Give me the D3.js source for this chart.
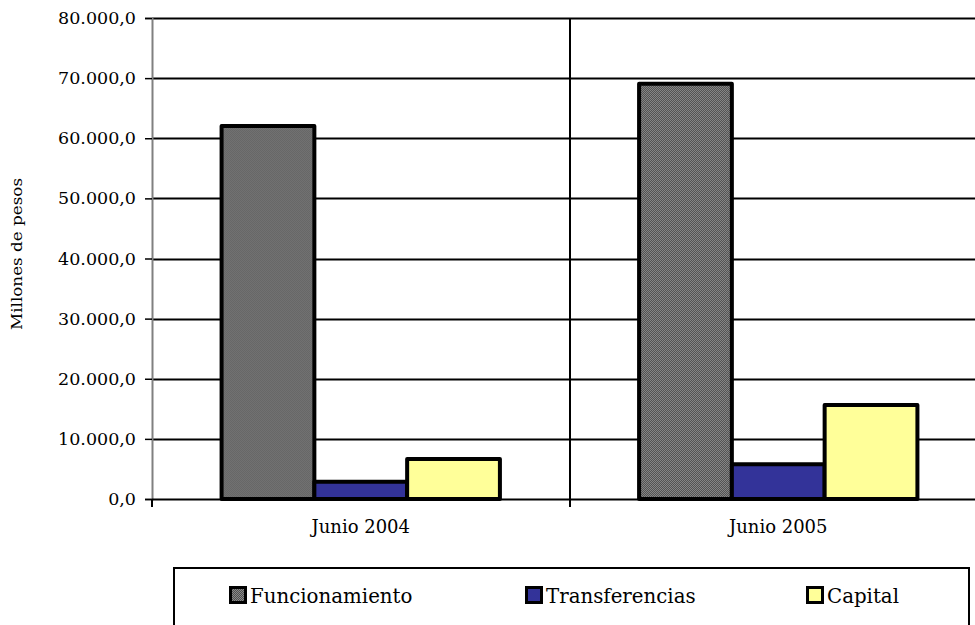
<!DOCTYPE html>
<html>
<head>
<meta charset="utf-8">
<script src="https://cdn.jsdelivr.net/npm/d3@7"></script>
<style>
  html, body { margin: 0; padding: 0; background: #fff; }
  svg { display: block; font-family: "DejaVu Serif", serif; }
</style>
</head>
<body>
<svg id="chart" width="975" height="625"></svg>
<script>
// Gasto por tipo, en millones de pesos
const categories = ["Junio 2004", "Junio 2005"];
const seriesNames = ["Funcionamiento", "Transferencias", "Capital"];
const funcionamiento = [62050, 69050];
const transferencias = [2850, 5800];
const capital = [6650, 15650];
const yTicks = [0, 10000, 20000, 30000, 40000, 50000, 60000, 70000, 80000];
const yLabel = "Millones de pesos";

const seriesValues = [funcionamiento, transferencias, capital];
const fills = ["url(#checker)", "#333399", "#FFFF99"];

const svg = d3.select("#chart");
const W = 975, H = 625;
const x0 = 152, x1 = 987;      // plot runs slightly past the right edge
const yTop = 18, yBot = 499;

// checker fill for the first series
const defs = svg.append("defs");
const pat = defs.append("pattern").attr("id", "checker")
  .attr("width", 2).attr("height", 2).attr("patternUnits", "userSpaceOnUse");
pat.append("rect").attr("width", 2).attr("height", 2).attr("fill", "#8a8a8a");
pat.append("rect").attr("width", 1).attr("height", 1).attr("fill", "#4e4e4e");
pat.append("rect").attr("x", 1).attr("y", 1).attr("width", 1).attr("height", 1).attr("fill", "#4e4e4e");

const y = d3.scaleLinear().domain([0, 80000]).range([yBot, yTop]);
const xCat = d3.scaleBand().domain(categories).range([x0, x1]).paddingInner(0).paddingOuter(0);
const groupW = xCat.bandwidth() * 3 / 4.5;   // gap of 150% of a bar
const xSer = d3.scaleBand().domain(seriesNames).range([0, groupW]).padding(0);

const fmt = v => d3.format(",.1f")(v).replace(/,/g, "#").replace(".", ",").replace(/#/g, ".");

// horizontal gridlines
svg.append("g").selectAll("line").data(yTicks.filter(t => t > 0)).join("line")
  .attr("x1", x0).attr("x2", W)
  .attr("y1", d => Math.round(y(d)) + 0.5).attr("y2", d => Math.round(y(d)) + 0.5)
  .attr("stroke", "#000").attr("stroke-width", 2);

// category separators
svg.append("g").selectAll("line").data(categories.slice(1)).join("line")
  .attr("x1", d => Math.round(xCat(d))).attr("x2", d => Math.round(xCat(d)))
  .attr("y1", yTop).attr("y2", yBot + 8)
  .attr("stroke", "#000").attr("stroke-width", 2);

// y axis
const yAxis = d3.axisLeft(y).tickValues(yTicks).tickFormat(fmt).tickSize(7).tickPadding(9);
const gy = svg.append("g").attr("transform", `translate(${x0},0)`).call(yAxis);
gy.select(".domain").attr("stroke", "#808080").attr("stroke-width", 2);
gy.selectAll(".tick line").attr("stroke", "#000").attr("stroke-width", 1.5);
gy.selectAll(".tick text").attr("font-family", "DejaVu Serif").attr("font-size", 17.5).attr("fill", "#000");

// bars
const groups = svg.append("g").selectAll("g").data(categories).join("g")
  .attr("transform", d => `translate(${xCat(d) + (xCat.bandwidth() - groupW) / 2},0)`);
groups.selectAll("rect").data((c, i) => seriesNames.map((s, k) => ({ s, k, v: seriesValues[k][i] }))).join("rect")
  .attr("x", d => xSer(d.s))
  .attr("y", d => y(d.v))
  .attr("width", xSer.bandwidth())
  .attr("height", d => yBot - y(d.v))
  .attr("fill", d => fills[d.k])
  .attr("stroke", "#000").attr("stroke-width", 4).attr("stroke-linejoin", "round");

// x axis baseline and ticks
const gx = svg.append("g").attr("transform", `translate(0,${yBot})`);
gx.append("line").attr("x1", x0).attr("x2", W).attr("y1", 0.5).attr("y2", 0.5)
  .attr("stroke", "#000").attr("stroke-width", 2);
gx.append("line").attr("x1", x0).attr("x2", x0).attr("y1", 0).attr("y2", 8)
  .attr("stroke", "#000").attr("stroke-width", 2);
gx.selectAll("text").data(categories).join("text")
  .attr("x", d => xCat(d) + xCat.bandwidth() / 2)
  .attr("y", 34)
  .attr("text-anchor", "middle").attr("font-size", 18).text(d => d);

// y axis title
svg.append("text")
  .attr("transform", `translate(22,254) rotate(-90)`)
  .attr("text-anchor", "middle").attr("font-size", 14.5)
  .attr("textLength", 152).attr("lengthAdjust", "spacingAndGlyphs")
  .text(yLabel);

// legend
const leg = svg.append("g");
leg.append("rect").attr("x", 174).attr("y", 568).attr("width", 795).attr("height", 70)
  .attr("fill", "#fff").attr("stroke", "#000").attr("stroke-width", 2);
const legX = [229, 525, 806];
const items = leg.selectAll("g").data(seriesNames).join("g")
  .attr("transform", (d, i) => `translate(${legX[i]},586)`);
items.append("rect").attr("x", 1.5).attr("y", 1.5).attr("width", 15).attr("height", 15)
  .attr("fill", (d, i) => fills[i]).attr("stroke", "#000").attr("stroke-width", 3);
items.append("text").attr("x", 21).attr("y", 17).attr("font-size", 19.8).text(d => d);
</script>
</body>
</html>
